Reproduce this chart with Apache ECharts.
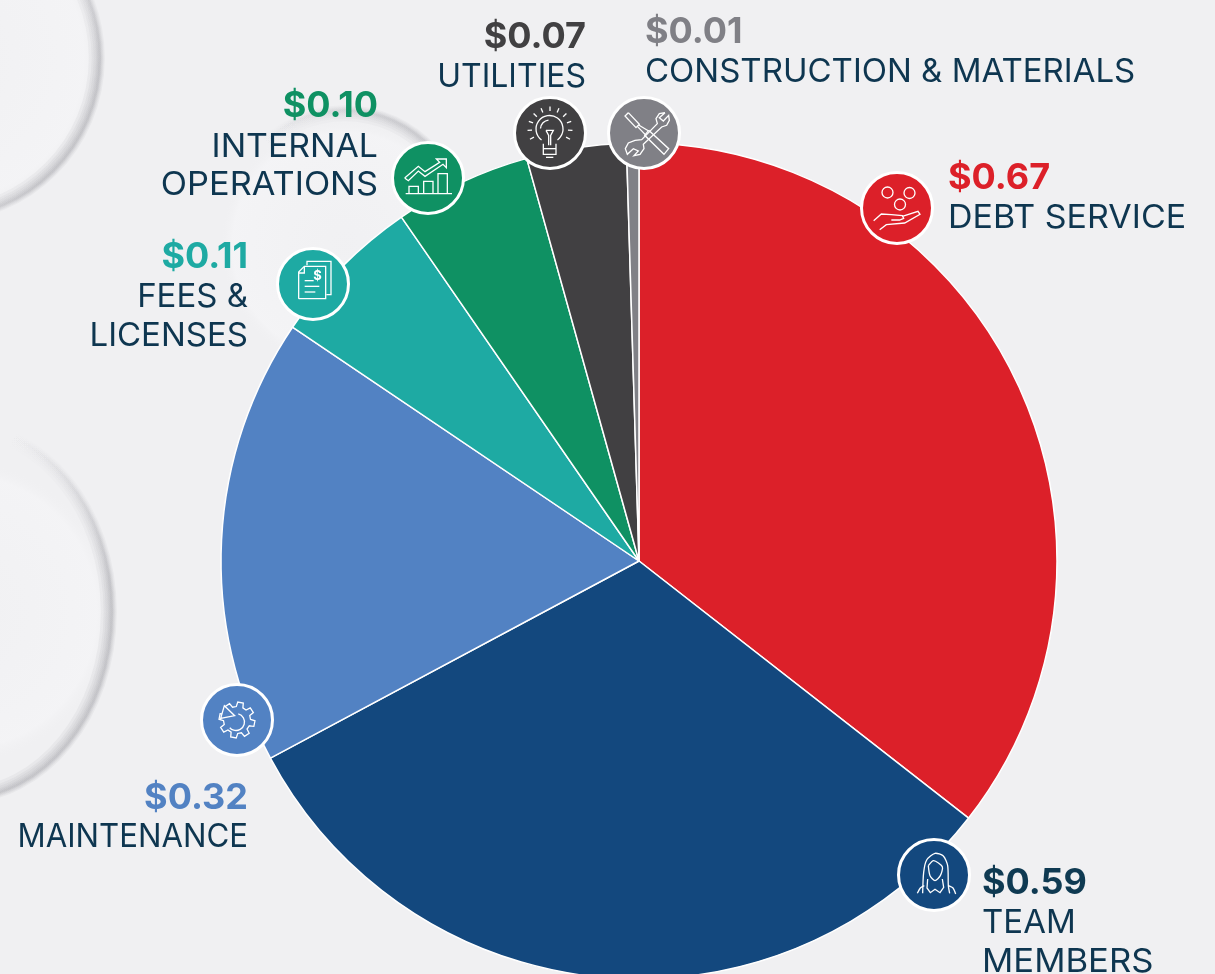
<!DOCTYPE html>
<html>
<head>
<meta charset="utf-8">
<title>Expense pie</title>
<script src="https://cdn.jsdelivr.net/npm/echarts@6/dist/echarts.min.js"></script>
<style>
    html, body { margin: 0; padding: 0; background: #f0f0f2; overflow: hidden; }
    #main { width: 1215px; height: 974px; }
</style>
</head>
<body>
<div id="main"></div>
<script>
var categories = ['Debt Service', 'Team Members', 'Maintenance', 'Fees & Licenses', 'Internal Operations', 'Utilities', 'Construction & Materials'];
// slice sizes as drawn in the picture, a little finer than the printed cents
var values = [0.665, 0.592, 0.323, 0.111, 0.099, 0.072, 0.009];
var valueLabels = ['$0.67', '$0.59', '$0.32', '$0.11', '$0.10', '$0.07', '$0.01'];
var nameLines = [
    ['DEBT SERVICE'],
    ['TEAM', 'MEMBERS'],
    ['MAINTENANCE'],
    ['FEES &', 'LICENSES'],
    ['INTERNAL', 'OPERATIONS'],
    ['UTILITIES'],
    ['CONSTRUCTION & MATERIALS']
];
var colors = ['#dc2029', '#13487e', '#5282c3', '#1eaaa3', '#0f9163', '#414042', '#808086'];
var valueColors = ['#dc2029', '#0f3a52', '#5282c3', '#1eaaa3', '#0f9163', '#414042', '#808086'];

// label anchor: x, align, y of the value line, y of each name line, x stretch of each name line
var labelPos = [
    { x: 948, align: 'left', vy: 178, ny: [218], sx: [1.03] },
    { x: 982, align: 'left', vy: 883, ny: [923, 962], sx: [1, 1.05] },
    { x: 248, align: 'right', vy: 798, ny: [837], sx: [0.945] },
    { x: 248, align: 'right', vy: 257, ny: [297, 336], sx: [1, 1] },
    { x: 378, align: 'right', vy: 106, ny: [147, 185], sx: [1.025, 1.04] },
    { x: 586, align: 'right', vy: 37, ny: [77], sx: [0.97] },
    { x: 645, align: 'left', vy: 32, ny: [72], sx: [1] }
];
var badgePos = [[897, 208], [934, 875], [237, 720], [313, 284], [428, 178], [550, 133], [644, 133]];

var textFont = 'Inter, "Noto Sans", sans-serif';
var inkColor = '#0e3650';
var ICON_Z = 10;

function line(pts, smooth) {
    return { type: 'polyline', z: ICON_Z, shape: { points: pts, smooth: smooth || 0 }, style: { stroke: '#fff', fill: null, lineWidth: 1.3 } };
}
function ring(x, y, r) {
    return { type: 'circle', z: ICON_Z, shape: { cx: x, cy: y, r: r }, style: { stroke: '#fff', fill: null, lineWidth: 1.3 } };
}
function bow(x, y, r, a0, a1) {
    return { type: 'arc', z: ICON_Z, shape: { cx: x, cy: y, r: r, startAngle: a0, endAngle: a1, clockwise: true }, style: { stroke: '#fff', fill: null, lineWidth: 1.3 } };
}
// zoomed-crop units to px around the badge centre
function z3(list, cx, cy) {
    return list.map(function (p) { return [(p[0] - cx) / 3, (p[1] - cy) / 3]; });
}

function debtIcon() {
    var c = 142, d = 145;
    return [
        ring(-9.5, -15.5, 5.5), ring(12.5, -15, 5.5), ring(3, -3.5, 5.5),
        line(z3([[72, 183], [95, 163], [125, 165], [158, 168], [162, 176], [150, 181], [125, 181]], c, d)),
        line(z3([[158, 170], [205, 155], [211, 164], [165, 190], [110, 195], [90, 210]], c, d))
    ];
}
function teamIcon() {
    var c = 147, d = 133;
    return [
        line(z3([[113, 188], [116, 125], [125, 88], [150, 68], [175, 76], [188, 105], [190, 165], [194, 188]], c, d), 0.25),
        line(z3([[130, 105], [146, 90], [172, 108], [166, 135], [150, 150], [135, 135], [130, 105]], c, d), 0.25),
        line(z3([[97, 188], [106, 172], [118, 165]], c, d), 0.2),
        line(z3([[212, 190], [204, 172], [190, 165]], c, d), 0.2),
        line(z3([[128, 145], [126, 172], [136, 186], [150, 176], [165, 186], [176, 170], [172, 145]], c, d))
    ];
}
function gearIcon() {
    var pts = [], teeth = 8, i, a, step = Math.PI * 2 / teeth;
    for (i = 0; i <= teeth; i++) {
        a = i * step + 0.2;
        pts.push([Math.cos(a - step * 0.32) * 13.5, Math.sin(a - step * 0.32) * 13.5]);
        pts.push([Math.cos(a - step * 0.2) * 18, Math.sin(a - step * 0.2) * 18]);
        pts.push([Math.cos(a + step * 0.2) * 18, Math.sin(a + step * 0.2) * 18]);
        pts.push([Math.cos(a + step * 0.32) * 13.5, Math.sin(a + step * 0.32) * 13.5]);
    }
    return [
        line(pts),
        { type: 'polygon', z: ICON_Z, shape: { points: z3([[93, 130], [104, 92], [135, 122]], 142, 135) }, style: { fill: '#5282c3', stroke: '#fff', lineWidth: 1.3 } },
        bow(-1, 2, 8.5, -1.3, 2.4)
    ];
}
function feesIcon() {
    var c = 158, d = 148;
    return [
        line(z3([[140, 92], [140, 80], [212, 80], [212, 180], [198, 180]], c, d)),
        line(z3([[115, 192], [115, 112], [132, 95], [196, 95], [196, 192], [115, 192]], c, d)),
        line(z3([[132, 97], [132, 115], [116, 115]], c, d)),
        line(z3([[133, 138], [160, 138]], c, d)),
        line(z3([[133, 155], [177, 155]], c, d)),
        line(z3([[133, 172], [165, 172]], c, d)),
        { type: 'text', z: ICON_Z, x: 4.5, y: -8, style: { text: '$', fill: '#fff', font: '700 13px ' + textFont, align: 'center', verticalAlign: 'middle' } }
    ];
}
function growthIcon() {
    var c = 145, d = 293;
    return [
        line(z3([[88, 338], [88, 318], [116, 318], [116, 338]], c, d)),
        line(z3([[132, 338], [132, 303], [160, 303], [160, 338]], c, d)),
        line(z3([[175, 338], [175, 280], [203, 280], [203, 338]], c, d)),
        line(z3([[78, 340], [217, 340]], c, d)),
        line(z3([[75, 293], [116, 258], [136, 274], [180, 246], [170, 236], [200, 236], [200, 262], [190, 252], [136, 288], [116, 272], [86, 301], [75, 293]], c, d))
    ];
}
function bulbIcon() {
    var c = 510, d = 158, out = [], i, a;
    for (i = 0; i < 11; i++) {
        a = Math.PI * (0.85 + i * 0.13);
        out.push(line([[Math.cos(a) * 18, Math.sin(a) * 18 - 4], [Math.cos(a) * 22.5, Math.sin(a) * 22.5 - 4]]));
    }
    return out.concat([
        bow(-0.5, -4, 13.5, 2.2, 0.94),
        bow(-0.5, -4, 9, 3.2, 4.6),
        line(z3([[490, 190], [490, 222], [528, 222], [528, 190]], c, d)),
        line(z3([[490, 205], [528, 205]], c, d)),
        line(z3([[498, 231], [520, 231]], c, d)),
        line(z3([[498, 150], [520, 150], [512, 165], [512, 195]], c, d)),
        line(z3([[498, 150], [506, 165], [506, 195]], c, d))
    ]);
}
function toolsIcon() {
    var c = 792, d = 158;
    return [
        // screwdriver
        line(z3([[745, 97], [735, 107], [768, 142], [778, 132], [745, 97]], c, d)),
        line(z3([[772, 138], [798, 165]], c, d)),
        line(z3([[776, 134], [806, 152]], c, d)),
        line(z3([[806, 150], [866, 205], [852, 222], [794, 165], [806, 150]], c, d)),
        // wrench
        line(z3([[855, 97], [838, 100], [828, 115], [832, 130], [785, 178], [765, 180], [745, 188], [736, 205], [742, 222], [760, 205], [775, 212], [762, 226], [780, 222], [792, 205], [790, 192], [845, 140], [860, 135], [868, 120], [866, 105], [850, 122], [838, 112], [855, 97]], c, d))
    ];
}
var icons = [debtIcon, teamIcon, gearIcon, feesIcon, growthIcon, bulbIcon, toolsIcon];

function backdrop() {
    // soft droplets behind the chart: cx, cy, rx, ry, gradient direction of the rim, rim strength
    var drops = [
        [-60, 58, 160, 160, [0, 0, 1, 0.5], 0.42],
        [-40, 612, 152, 187, [0, 0, 1, 0.4], 0.42],
        [345, 245, 125, 135, [0, 1, 1, 0], 0.6]
    ];
    var out = [];
    drops.forEach(function (d) {
        out.push({
            type: 'ellipse', z: 0,
            shape: { cx: d[0], cy: d[1], rx: d[2], ry: d[3] },
            style: {
                fill: new echarts.graphic.RadialGradient(0.5, 0.5, 0.5, [
                    { offset: 0, color: 'rgba(246,246,248,0.1)' },
                    { offset: 0.9, color: 'rgba(248,248,250,0.45)' },
                    { offset: 1, color: 'rgba(240,240,242,0)' }
                ])
            }
        });
        // stacked wide strokes stand in for a blurred rim
        [16, 12, 9, 6, 4, 2].forEach(function (w) {
            var a = d[5] / 6;
            out.push({
                type: 'ellipse', z: 0,
                shape: { cx: d[0], cy: d[1], rx: d[2] - w * 0.2, ry: d[3] - w * 0.2 },
                style: {
                    fill: null,
                    lineWidth: w,
                    stroke: new echarts.graphic.LinearGradient(d[4][0], d[4][1], d[4][2], d[4][3], [
                        { offset: 0.55, color: 'rgba(150,150,158,0)' },
                        { offset: 1, color: 'rgba(120,120,128,' + a + ')' }
                    ])
                }
            });
        });
    });
    return out;
}

function labels() {
    var out = [];
    valueLabels.forEach(function (txt, i) {
        var pos = labelPos[i];
        out.push({
            type: 'text', z: ICON_Z, x: pos.x, y: pos.vy,
            style: { text: txt, fill: valueColors[i], font: '700 36px ' + textFont, align: pos.align, verticalAlign: 'middle' }
        });
        nameLines[i].forEach(function (t, k) {
            out.push({
                type: 'text', z: ICON_Z, x: pos.x, y: pos.ny[k], scaleX: pos.sx[k],
                style: { text: t, fill: inkColor, font: '400 33px ' + textFont, align: pos.align, verticalAlign: 'middle' }
            });
        });
    });
    return out;
}

function badges() {
    return values.map(function (v, i) {
        return {
            type: 'group',
            x: badgePos[i][0],
            y: badgePos[i][1],
            children: [{
                type: 'circle', z: ICON_Z, shape: { cx: 0, cy: 0, r: 35.5 },
                style: { fill: colors[i], stroke: '#fff', lineWidth: 3 }
            }].concat(icons[i]().map(function (el) { el.z = ICON_Z + 1; return el; }))
        };
    });
}

var chart = echarts.init(document.getElementById('main'));
chart.setOption({
    animation: false,
    backgroundColor: '#f0f0f2',
    color: colors,
    graphic: { elements: backdrop().concat(badges(), labels()) },
    series: [{
        type: 'pie',
        z: 5,
        silent: true,
        center: [639, 561],
        radius: [0, 418],
        startAngle: 90,
        clockwise: true,
        label: { show: false },
        labelLine: { show: false },
        itemStyle: { borderColor: '#fff', borderWidth: 1.5 },
        data: categories.map(function (name, i) {
            return { name: name, value: values[i] };
        })
    }]
});
</script>
</body>
</html>
